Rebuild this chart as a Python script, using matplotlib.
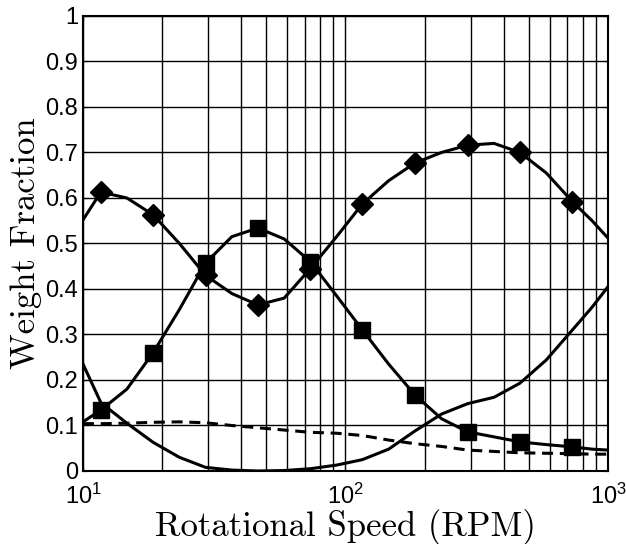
import numpy as np
import matplotlib
matplotlib.use("Agg")
import matplotlib.pyplot as plt
from matplotlib.ticker import LogLocator, NullFormatter, FixedLocator

plt.rcParams['font.family'] = ['Liberation Sans', 'DejaVu Sans']

# rotational speed (RPM) where curves were read
rpm = [10, 11.7, 14.7, 18.5, 23.3, 29.3, 36.9, 46.4, 58.4, 73.5, 92.5,
       116, 146, 184, 232, 292, 368, 462, 582, 732, 870, 1000]

# weight fractions
diamond = [0.552, 0.613, 0.600, 0.563, 0.50, 0.43, 0.39, 0.365, 0.38, 0.445, 0.515,
           0.587, 0.638, 0.677, 0.70, 0.716, 0.72, 0.70, 0.655, 0.592, 0.55, 0.512]
square = [0.108, 0.134, 0.18, 0.26, 0.355, 0.457, 0.515, 0.534, 0.51, 0.46, 0.385,
          0.31, 0.235, 0.167, 0.115, 0.086, 0.075, 0.064, 0.058, 0.053, 0.048, 0.046]
plain = [0.235, 0.15, 0.105, 0.063, 0.03, 0.008, 0.002, 0.0, 0.001, 0.005, 0.013,
         0.025, 0.048, 0.088, 0.125, 0.148, 0.162, 0.193, 0.244, 0.31, 0.36, 0.405]
dashed = [0.104, 0.104, 0.105, 0.107, 0.108, 0.106, 0.10, 0.095, 0.09, 0.085, 0.083,
          0.078, 0.068, 0.06, 0.054, 0.046, 0.043, 0.04, 0.039, 0.038, 0.037, 0.037]

yticks = [0, 0.1, 0.2, 0.3, 0.4, 0.5, 0.6, 0.7, 0.8, 0.9, 1]
ytick_labels = ['0', '0.1', '0.2', '0.3', '0.4', '0.5', '0.6', '0.7', '0.8', '0.9', '1']

marks = list(range(1, 20, 2))  # markers every other sample

fig = plt.figure(figsize=(6.26, 5.44), dpi=100)
ax = fig.add_axes([0.1326, 0.1342, 0.8386, 0.8364])

ax.plot(rpm, diamond, 'k-', lw=2.2, marker='D', ms=11, markevery=marks)
ax.plot(rpm, square, 'k-', lw=2.2, marker='s', ms=11, markevery=marks)
ax.plot(rpm, plain, 'k-', lw=2.2)
ax.plot(rpm, dashed, 'k--', lw=2.2, dashes=(3.6, 2.2))

ax.set_xscale('log')
ax.set_xlim(10, 1000)
ax.set_ylim(0, 1)
ax.yaxis.set_major_locator(FixedLocator(yticks))
ax.set_yticklabels(ytick_labels)
ax.xaxis.set_minor_locator(LogLocator(base=10, subs=np.arange(2, 10)))
ax.xaxis.set_minor_formatter(NullFormatter())

ax.grid(True, which='both', color='k', lw=1)
ax.tick_params(which='both', direction='in', labelsize=17, top=True, right=True)
ax.tick_params(axis='x', pad=9)
for s in ax.spines.values():
    s.set_linewidth(1.5)

ax.set_xlabel('Rotational Speed (RPM)', fontname='cmr10', fontsize=25, labelpad=0)
ax.set_ylabel('Weight Fraction', fontname='cmr10', fontsize=25, labelpad=2)

fig.savefig('out.png', dpi=100)
